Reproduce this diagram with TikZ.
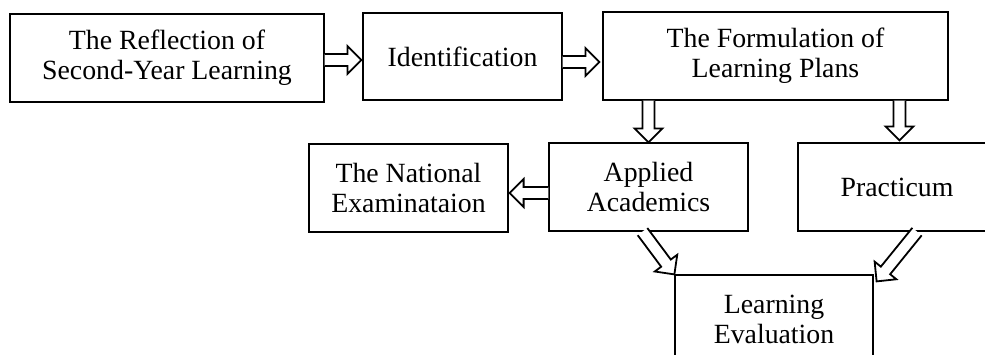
\documentclass[tikz,border=0pt]{standalone}
\usepackage{fontspec}
\setmainfont{Liberation Serif}
\usetikzlibrary{calc}
\tikzset{
  box/.style={draw, line width=1.2pt, align=center, inner sep=0pt,
    font=\fontsize{27.8}{30}\selectfont},
  blk/.style={draw, line width=1.8pt, fill=white, line join=miter},
}
% hollow block arrow from #1 to #2 (tip at #2)
\newcommand\blkarrow[2]{%
  \draw[blk] let \p1=(#1), \p2=(#2),
    \n1={atan2(\y2-\y1,\x2-\x1)}, \n2={veclen(\x2-\x1,\y2-\y1)} in
    ($(\p1)+(\n1+90:6pt)$) --
    ($(\p1)+(\n1:\n2-14pt)+(\n1+90:6pt)$) --
    ($(\p1)+(\n1:\n2-14pt)+(\n1+90:14pt)$) --
    (\p2) --
    ($(\p1)+(\n1:\n2-14pt)+(\n1-90:14pt)$) --
    ($(\p1)+(\n1:\n2-14pt)+(\n1-90:6pt)$) --
    ($(\p1)+(\n1-90:6pt)$);}
\begin{document}
\begin{tikzpicture}[x=1pt,y=-1pt]
\useasboundingbox (0,0) rectangle (985,354);
\clip (0,0) rectangle (985,354);
\node[box, minimum width=314pt, minimum height=88pt] (refl) at (167,58)
  {The Reflection of\\Second-Year Learning};
\node[box, minimum width=199pt, minimum height=87pt] (ident) at (462.5,56.5)
  {Identification};
\node[box, minimum width=345pt, minimum height=88pt] (form) at (775.5,56)
  {The Formulation of\\Learning Plans};
\node[box, minimum width=199pt, minimum height=88pt] (nat) at (408.5,188)
  {The National\\Examinataion};
\node[box, minimum width=199pt, minimum height=88pt] (app) at (648.5,187)
  {Applied\\Academics};
\node[box, minimum width=198pt, minimum height=88pt] (prac) at (897,187)
  {Practicum};
\node[box, minimum width=198pt, minimum height=88pt] (eval) at (774,319)
  {Learning\\Evaluation};
\coordinate (s1) at ($(refl.east)+(0,2)$);
\coordinate (t1) at ($(ident.west |- refl.east)+(-1,2)$);
\blkarrow{s1}{t1}
\coordinate (s2) at ($(ident.east)+(0,5.5)$);
\coordinate (t2) at ($(form.west |- ident.east)+(-3,5.5)$);
\blkarrow{s2}{t2}
\coordinate (s3) at (app.north |- form.south);
\blkarrow{s3}{app.north}
\coordinate (s4) at ($(prac.north |- form.south)+(2.5,0)$);
\coordinate (t4) at ($(prac.north)+(2.5,-2)$);
\blkarrow{s4}{t4}
\coordinate (s5) at ($(app.west)+(0,6)$);
\coordinate (t5) at ($(nat.east)+(1,5)$);
\blkarrow{s5}{t5}
\coordinate (s6) at ($(app.south)+(-6,0)$);
\blkarrow{s6}{eval.north west}
\coordinate (s7) at ($(prac.south)+(20,0)$);
\coordinate (t7) at ($(eval.north east)+(3,7)$);
\blkarrow{s7}{t7}
\end{tikzpicture}
\end{document}
